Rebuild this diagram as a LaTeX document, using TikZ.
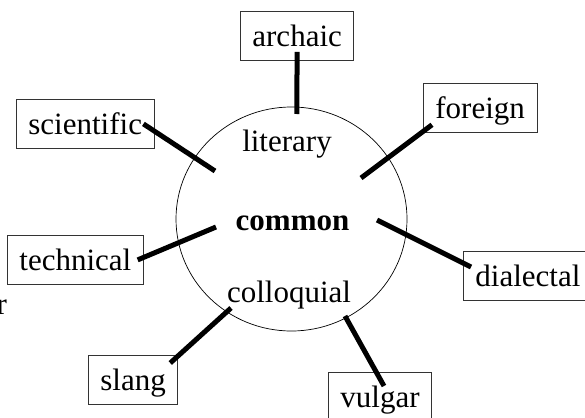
\documentclass[tikz,border=0pt]{standalone}
\usepackage{fontspec}
\setmainfont{Liberation Serif}
\usepackage{tikz}
\usetikzlibrary{positioning}

\begin{document}
\begin{tikzpicture}[x=1pt, y=-1pt, every node/.style={font=\fontsize{31}{36}\selectfont, inner sep=0pt},
    wordbox/.style={draw=black!80, line width=0.8pt, inner xsep=12pt, inner ysep=11pt, text height=24pt, text depth=3pt, anchor=north west},
    link/.style={line width=5pt}]
    \useasboundingbox (0,0) rectangle (585,417);
    \draw[line width=0.7pt] (291.5,219) ellipse [x radius=115.5pt, y radius=112pt];
    \node[anchor=base] (literary) at (287,151.7) {literary};
    \node[anchor=base] (common) at (292.5,230) {\textbf{common}};
    \node[anchor=base] (colloquial) at (289,302) {colloquial};
    \node[anchor=base west] (cut) at (-3.5,314) {r};
    \foreach \n/\x/\y in {archaic/240/11, scientific/16/99, foreign/423/83, technical/7/235, slang/88/355, dialectal/463/251, vulgar/328/372} {
        \node[wordbox] (\n) at (\x,\y) {\n};
    }
    \foreach \n/\x/\y in {arc-in/296.75/114, sci-in/215/171, for-in/361/178, tec-in/216/227, sla-in/231/308, dia-in/377/220, vul-in/345/316} {
        \coordinate (\n) at (\x,\y);
    }
    \draw[link] ([yshift=9pt]archaic.south) -- (arc-in);
    \draw[link] ([xshift=-11pt]scientific.east) -- (sci-in);
    \draw[link] ([shift={(9pt,8pt)}]foreign.south west) -- (for-in);
    \draw[link] ([xshift=-6pt]technical.east) -- (tec-in);
    \draw[link] ([shift={(-8pt,-8pt)}]slang.north east) -- (sla-in);
    \draw[link] ([shift={(8pt,-16pt)}]dialectal.north west) -- (dia-in);
    \draw[link] ([shift={(4pt,-14pt)}]vulgar.north) -- (vul-in);
\end{tikzpicture}
\end{document}
